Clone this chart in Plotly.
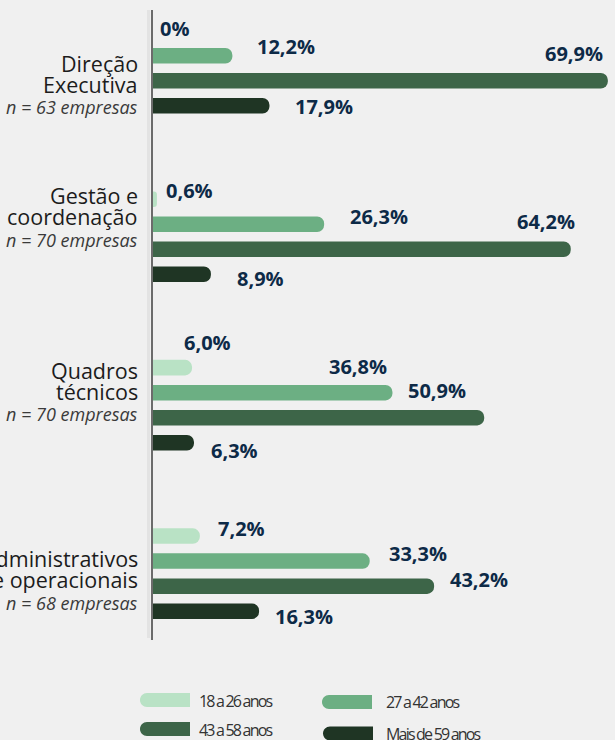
import plotly.graph_objects as go

# ---------------- data ----------------
CATEGORY_LINES = [
    ["Direção", "Executiva"],
    ["Gestão e", "coordenação"],
    ["Quadros", "técnicos"],
    ["Administrativos", "e operacionais"],
]
SAMPLE_SIZES = [63, 70, 70, 68]
SERIES_NAMES = ["18 a 26 anos", "27 a 42 anos", "43 a 58 anos", "Mais de 59 anos"]
VALUES_18_26 = [0.0, 0.6, 6.0, 7.2]
VALUES_27_42 = [12.2, 26.3, 36.8, 33.3]
VALUES_43_58 = [69.9, 64.2, 50.9, 43.2]
VALUES_59_PLUS = [17.9, 8.9, 6.3, 16.3]

SERIES_VALUES = [VALUES_18_26, VALUES_27_42, VALUES_43_58, VALUES_59_PLUS]
CATEGORIES = [" ".join(lines) for lines in CATEGORY_LINES]

# ---------------- style ----------------
COLORS = ["#b9e2c5", "#6caf83", "#3d6548", "#1f3524"]
BG = "#f0f0f0"
LABEL_COLOR = "#0d2a47"
TEXT_COLOR = "#1c1c1c"
FONT = "Open Sans"

W, H = 615, 740
ML, MR, MT, MB = 153, 0, 10, 100
PW, PH = W - ML - MR, H - MT - MB
X_RANGE = [0, 71]
Y_RANGE = [3.394, -0.3455]   # reversed: first category at top
BARGAP = 0.406
BARGROUPGAP = 0.38

# label placement per series / category: (anchor, dx px from bar end, dy px down from bar centre)
LABEL_NUDGE = [
    [("left", 5, -2), ("left", 7, -9), ("left", -10, -25), ("left", 16, -8)],
    [("left", 23, -9), ("left", 24, -8), ("right", -3, -26), ("left", 17, -8)],
    [("right", -3, -27), ("right", 6, -28), ("right", -16, -27), ("left", 14, -7)],
    [("left", 24, 1), ("left", 24, 4), ("left", 15, 8), ("left", 14, 5)],
]
# vertical nudge (px down) of each category's text block
CATEGORY_LABEL_SHIFT = [16, -20, -14, 6]


def px_x(px):
    return (px - ML) / PW


def px_y(py):
    return (H - MB - py) / PH


def fmt(v):
    return "0%" if v == 0 else f"{v:.1f}".replace(".", ",") + "%"


fig = go.Figure()
for name, vals, col in zip(SERIES_NAMES, SERIES_VALUES, COLORS):
    fig.add_trace(go.Bar(
        y=CATEGORIES, x=vals, orientation="h", name=name,
        marker=dict(color=col, line=dict(width=0)),
        showlegend=False, hoverinfo="skip",
    ))

annotations = []
slot = (1 - BARGAP) / len(SERIES_VALUES)
for k, vals in enumerate(SERIES_VALUES):
    for c, v in enumerate(vals):
        anchor, dx, dy = LABEL_NUDGE[k][c]
        annotations.append(dict(
            x=v, y=c + (k - (len(SERIES_VALUES) - 1) / 2) * slot,
            xref="x", yref="y", text=f"<b>{fmt(v)}</b>", showarrow=False,
            xanchor=anchor, yanchor="middle", xshift=dx, yshift=-dy,
            font=dict(family=FONT, size=20, color=LABEL_COLOR),
        ))

# category labels (left of axis)
for c, (lines, n) in enumerate(zip(CATEGORY_LINES, SAMPLE_SIZES)):
    s = CATEGORY_LABEL_SHIFT[c]
    rows = [(lines[0], 21 - s, 21.5, "normal", TEXT_COLOR),
            (lines[1], 0 - s, 21.5, "normal", TEXT_COLOR),
            (f"n = {n} empresas", -23 - s, 18, "italic", "#3a3a3a")]
    for txt, ys, size, style, color in rows:
        annotations.append(dict(
            x=0, y=c, xref="paper", yref="y", text=txt, showarrow=False,
            xanchor="right", yanchor="middle", xshift=-13, yshift=ys,
            font=dict(family=FONT, size=size, color=color, style=style),
        ))

# manual legend
LEGEND_POS = [(140, 700, 197, 701), (322, 702, 384, 702),
              (140, 729, 197, 730), (323, 733.5, 384, 734)]
shapes = []
kk = 0.5523
for name, col, (sx, sy, tx, ty) in zip(SERIES_NAMES, COLORS, LEGEND_POS):
    w, h = 50, 14
    r = h / 2
    x0, x1, top, bot, mid = sx, sx + w, sy - h / 2, sy + h / 2, sy
    pts = [
        ("M", [(x0 + r, top)]),
        ("L", [(x1, top)]),
        ("L", [(x1, bot)]),
        ("L", [(x0 + r, bot)]),
        ("C", [(x0 + r - kk * r, bot), (x0, mid + kk * r), (x0, mid)]),
        ("C", [(x0, mid - kk * r), (x0 + r - kk * r, top), (x0 + r, top)]),
    ]
    path = " ".join(cmd + " ".join(f"{px_x(a):.5f},{px_y(b):.5f}" for a, b in p) for cmd, p in pts) + " Z"
    shapes.append(dict(type="path", xref="paper", yref="paper", path=path,
                       fillcolor=col, line=dict(width=0)))
    annotations.append(dict(
        x=px_x(tx), y=px_y(ty), xref="paper", yref="paper",
        text=f'<span style="letter-spacing:-1.8px">{name}</span>', showarrow=False,
        xanchor="left", yanchor="middle",
        font=dict(family=FONT, size=16, color="#333333"),
    ))

# faint shadow beside the axis line
shapes.append(dict(type="line", xref="paper", yref="paper",
                   x0=px_x(148.5), x1=px_x(148.5), y0=0.003, y1=1,
                   line=dict(color="#e3e3e3", width=3), layer="below"))

fig.update_layout(
    width=W, height=H,
    margin=dict(l=ML, r=MR, t=MT, b=MB),
    paper_bgcolor=BG, plot_bgcolor=BG,
    barmode="group", bargap=BARGAP, bargroupgap=BARGROUPGAP,
    barcornerradius=8,
    showlegend=False,
    font=dict(family=FONT),
    annotations=annotations, shapes=shapes,
    xaxis=dict(range=X_RANGE, showgrid=False, zeroline=False,
               showticklabels=False, showline=False, fixedrange=True),
    yaxis=dict(range=Y_RANGE, showgrid=False, zeroline=False,
               showticklabels=False, showline=True, linecolor="#6b6b6b",
               linewidth=2, ticks="", fixedrange=True, automargin=False),
)

fig.write_html(
    "out.html",
    config={"displayModeBar": False},
    post_script="document.body.style.margin='0';document.body.style.overflow='hidden';"
                "document.body.style.background='" + BG + "';",
)
